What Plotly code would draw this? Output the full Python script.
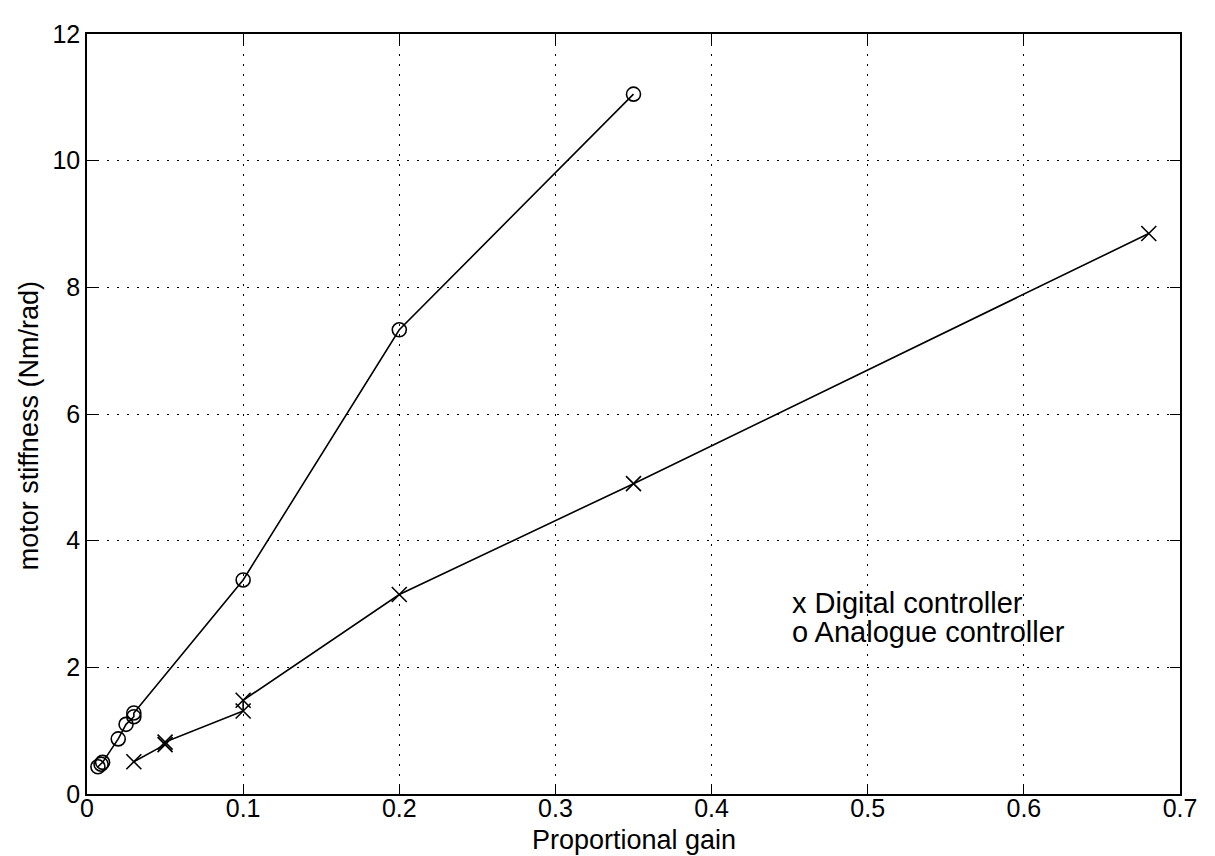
import plotly.graph_objects as go

# Analogue controller (circles)
analogue_gain = [0.007, 0.009, 0.010, 0.020, 0.025, 0.030, 0.030, 0.100, 0.200, 0.350]
analogue_stiff = [0.43, 0.47, 0.50, 0.87, 1.10, 1.22, 1.28, 3.38, 7.33, 11.05]

# Digital controller (crosses)
digital_gain = [0.030, 0.050, 0.050, 0.100, 0.100, 0.200, 0.350, 0.680]
digital_stiff = [0.51, 0.78, 0.82, 1.31, 1.48, 3.15, 4.90, 8.85]

x_ticks = [0, 0.1, 0.2, 0.3, 0.4, 0.5, 0.6, 0.7]
x_tick_labels = ["0", "0.1", "0.2", "0.3", "0.4", "0.5", "0.6", "0.7"]
y_ticks = [0, 2, 4, 6, 8, 10, 12]
y_tick_labels = ["0", "2", "4", "6", "8", "10", "12"]

legend_lines = ["x Digital controller", "o Analogue controller"]
legend_y = [3.01, 2.56]

x_title = "Proportional gain"
y_title = "motor stiffness (Nm/rad)"

font_family = "Liberation Sans, Arial, Helvetica, sans-serif"

fig = go.Figure()
fig.add_trace(go.Scatter(
    x=analogue_gain, y=analogue_stiff, mode="lines+markers",
    line=dict(color="black", width=1.6),
    marker=dict(symbol="circle-open", size=14, color="black", line=dict(width=1.6)),
    showlegend=False,
))
fig.add_trace(go.Scatter(
    x=digital_gain, y=digital_stiff, mode="lines+markers",
    line=dict(color="black", width=1.6),
    marker=dict(symbol="x-thin-open", size=15, color="black", line=dict(width=1.6)),
    showlegend=False,
))

for txt, yy in zip(legend_lines, legend_y):
    fig.add_annotation(x=0.45, y=yy, text=txt, showarrow=False, xanchor="left",
                       yanchor="middle", font=dict(size=29, color="black", family=font_family))

fig.add_annotation(x=0.5, y=0, xref="paper", yref="paper", text=x_title, showarrow=False,
                   xanchor="center", yanchor="middle", yshift=-46, borderpad=0,
                   font=dict(size=27, color="black", family=font_family))
fig.add_annotation(x=0, y=0.484, xref="paper", yref="paper", text=y_title, showarrow=False,
                   textangle=-90, xanchor="center", yanchor="middle", xshift=-58,
                   font=dict(size=27, color="black", family=font_family))

axis_common = dict(
    showline=True, linecolor="black", linewidth=1.6, mirror="ticks",
    showgrid=True, gridcolor="black", gridwidth=1.2, griddash="2px,8px",
    ticks="inside", ticklen=10, tickcolor="black", tickwidth=1.4,
    zeroline=False, ticklabeloverflow="allow",
    tickfont=dict(size=25, color="black", family=font_family),
)

fig.update_xaxes(range=[0, 0.7], tickvals=x_ticks, ticktext=x_tick_labels,
                 ticklabelstandoff=-9, **axis_common)
fig.update_yaxes(range=[0, 12], tickvals=y_ticks, ticktext=y_tick_labels, **axis_common)

fig.update_layout(
    width=1215, height=856,
    margin=dict(l=79, r=43, t=12, b=70),
    plot_bgcolor="white", paper_bgcolor="white",
)

fig.write_html("out.html")
